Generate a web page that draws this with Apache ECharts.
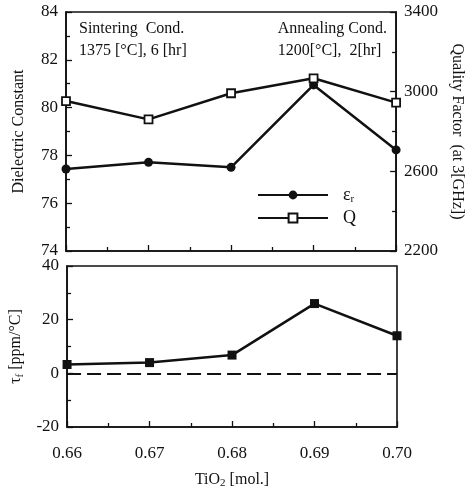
<!DOCTYPE html>
<html>
<head>
<meta charset="utf-8">
<script src="https://cdn.jsdelivr.net/npm/echarts@6/dist/echarts.min.js"></script>
<style>
  html, body { margin: 0; padding: 0; background: #fff; }
  #chart { width: 473px; height: 490px; }
</style>
</head>
<body>
<div id="chart"></div>
<script>
// TiO2 content [mol.]
const tio2 = [0.66, 0.67, 0.68, 0.69, 0.70];
// dielectric constant (left axis, top panel)
const epsR = [77.43, 77.71, 77.5, 80.95, 78.23];
// quality factor at 3 GHz (right axis, top panel)
const qFactor = [2953, 2861, 2992, 3067, 2945];
// temperature coefficient of resonant frequency (bottom panel)
const tauF = [3.3, 4.0, 6.8, 26, 14];

const font = "Liberation Serif";
const ink = "#111";

const pairs = (xs, ys) => xs.map((x, i) => [x, ys[i]]);

const chart = echarts.init(document.getElementById("chart"));

const axisCommon = {
  axisLine: { show: true, onZero: false, lineStyle: { color: ink, width: 1.6 } },
  axisTick: { show: true, inside: true, length: 6, lineStyle: { color: ink, width: 1.3 } },
  minorTick: { show: true, splitNumber: 2, length: 4, lineStyle: { color: ink, width: 1.3 } },
  splitLine: { show: false },
  axisLabel: { color: ink, fontFamily: font, fontSize: 17, formatter: (v) => String(v) },
  nameTextStyle: { color: ink, fontFamily: font, fontSize: 16 },
};

const option = {
  backgroundColor: "#fff",
  animation: false,
  grid: [
    { left: 66, right: 76, top: 12, height: 239, show: true, borderColor: ink, borderWidth: 1.6 },
    { left: 66, right: 76, top: 266, height: 167, show: true, borderColor: ink, borderWidth: 1.6 },
  ],
  xAxis: [
    Object.assign({}, axisCommon, {
      type: "value", gridIndex: 0, min: 0.66, max: 0.70, interval: 0.01,
      axisLabel: { show: false },
    }),
    Object.assign({}, axisCommon, {
      type: "value", gridIndex: 1, min: 0.66, max: 0.70, interval: 0.01,
      axisLabel: Object.assign({}, axisCommon.axisLabel, {
        margin: 18,
        formatter: (v) => v.toFixed(2),
      }),
      name: "{n|TiO}{s|2}{n| [mol.]}",
      nameLocation: "middle",
      nameGap: 43,
      nameTextStyle: {
        rich: {
          n: { fontFamily: font, fontSize: 16, color: ink },
          s: { fontFamily: font, fontSize: 11, color: ink, padding: [8, 0, 0, 0] },
        },
      },
    }),
  ],
  yAxis: [
    Object.assign({}, axisCommon, {
      type: "value", gridIndex: 0, min: 74, max: 84, interval: 2,
      name: "Dielectric Constant",
      nameLocation: "middle",
      nameGap: 39,
    }),
    Object.assign({}, axisCommon, {
      type: "value", gridIndex: 0, min: 2200, max: 3400, interval: 400,
      position: "right",
      name: "Quality Factor  (at 3[GHz])",
      nameLocation: "middle",
      nameRotate: -90,
      nameGap: 52,
    }),
    Object.assign({}, axisCommon, {
      type: "value", gridIndex: 1, min: -20, max: 40, interval: 20,
      name: "{n|τ}{s|f}{n| [ppm/°C]}",
      nameLocation: "middle",
      nameGap: 39,
      nameTextStyle: {
        rich: {
          n: { fontFamily: font, fontSize: 16, color: ink },
          s: { fontFamily: font, fontSize: 11, color: ink, padding: [8, 0, 0, 0] },
        },
      },
    }),
  ],
  legend: {
    orient: "vertical",
    left: 252,
    top: 181,
    itemWidth: 70,
    itemHeight: 11,
    itemGap: 4,
    data: ["eps", "Q"],
    formatter: (name) => (name === "eps" ? "{a|ε}{b|r}" : "{a|Q}"),
    textStyle: {
      padding: [0, 0, 0, 10],
      rich: {
        a: { fontFamily: font, fontSize: 18, color: ink },
        b: { fontFamily: font, fontSize: 11, color: ink, padding: [9, 0, 0, 0] },
      },
    },
  },
  graphic: [
    { type: "text", left: 79, top: 18, style: { text: "Sintering  Cond.\n1375 [°C], 6 [hr]", font: "16px " + font, fill: ink, lineHeight: 22 } },
    { type: "text", right: 86, top: 18, style: { text: "Annealing Cond.\n1200[°C],  2[hr]", font: "16px " + font, fill: ink, lineHeight: 22, align: "right" } },
  ],
  series: [
    {
      name: "eps",
      type: "line",
      xAxisIndex: 0,
      yAxisIndex: 0,
      data: pairs(tio2, epsR),
      symbol: "circle",
      symbolSize: 9,
      lineStyle: { color: ink, width: 2.5 },
      itemStyle: { color: ink },
    },
    {
      name: "Q",
      type: "line",
      xAxisIndex: 0,
      yAxisIndex: 1,
      data: pairs(tio2, qFactor),
      symbol: "rect",
      symbolSize: 8,
      lineStyle: { color: ink, width: 2.5 },
      itemStyle: { color: "#fff", borderColor: ink, borderWidth: 1.8 },
    },
    {
      name: "tau",
      type: "line",
      xAxisIndex: 1,
      yAxisIndex: 2,
      data: pairs(tio2, tauF),
      symbol: "rect",
      symbolSize: 9,
      lineStyle: { color: ink, width: 2.5 },
      itemStyle: { color: ink },
      markLine: {
        silent: true,
        symbol: "none",
        label: { show: false },
        lineStyle: { color: ink, type: [14, 6], width: 2 },
        data: [{ yAxis: 0 }],
      },
    },
  ],
};

chart.setOption(option);
</script>
</body>
</html>
